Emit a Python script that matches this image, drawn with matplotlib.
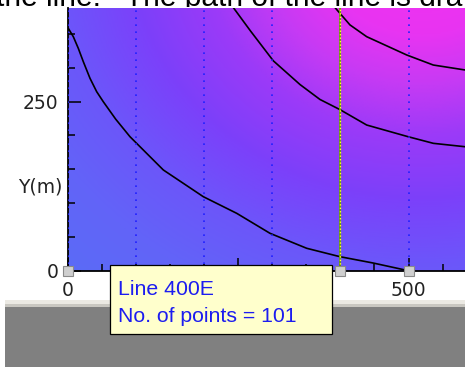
import numpy as np
import matplotlib
matplotlib.use("Agg")
from matplotlib import pyplot as plt
from matplotlib.colors import LinearSegmentedColormap
from matplotlib.patches import Rectangle
from matplotlib.ticker import MultipleLocator

W, H = 465, 367

# survey lines (easting, m) and the one that is selected
line_x = [0, 100, 200, 300, 400, 500]
selected_line = 400
n_points = 101

# contour lines (x, y in metres)
c1_x = [0.4, 7.8, 15.1, 22.5, 32.3, 42.1, 51.8, 70, 91, 140, 198.7, 247.7, 296.6, 350.5, 399.4, 448, 495]
c1_y = [358, 345.6, 328.5, 308.7, 284.2, 264.5, 249.7, 224, 198.1, 149, 109.6, 85.1, 55.6, 33.5, 21.1, 11.8, 1.5]
c2_x = [242.7, 268, 301.5, 340.7, 370, 399.4, 438.6, 499.7, 536.5, 583]
c2_y = [388.6, 354, 310, 275, 253, 238, 215.3, 198, 188.3, 183.3]
c3_x = [392, 399.4, 414, 438.6, 497.4, 536.4, 583]
c3_y = [388.6, 380, 363, 345.6, 318.6, 303.8, 296.5]
contours = [(c1_x, c1_y), (c2_x, c2_y), (c3_x, c3_y)]

x_major = [0, 250, 500]
x_labels = ["0", "250", "500"]
y_major = [0, 250]
y_labels = ["0", "250"]

tip_lines = [f"Line {selected_line}E", f"No. of points = {n_points}"]
top_text_a = "the line."
top_text_b = "The path of the line is drawn"

x_max = (W - 68) / 0.681
y_max = (271 - 7.5) / 0.678


def fx(px):
    return px / W


def fy(py):
    return 1 - py / H


fig = plt.figure(figsize=(W / 100, H / 100), dpi=100)

# caption text cut off by the plot window
for s, px in [(top_text_a, -4), (top_text_b, 125)]:
    fig.text(fx(px), fy(6.5), s, fontsize=21.5, family="Liberation Sans",
             va="baseline", ha="left", zorder=0)
fig.patches.append(Rectangle((0, 0), 1, fy(7), transform=fig.transFigure,
                             fc="white", ec="none", zorder=0.5))

# grey status bar at the bottom
for y0, y1, c in [(300, 304, "#ebe9e3"), (304, 307, "#c9c7c1"), (307, 368, "#808080")]:
    fig.patches.append(Rectangle((fx(5), fy(y1)), 1, (y1 - y0) / H,
                                 transform=fig.transFigure, fc=c, ec="none", zorder=1))

ax = fig.add_axes([fx(68), fy(271), (W - 68) / W, (271 - 7.5) / H])
ax.set_zorder(2)

# background colour field
gx, gy = np.meshgrid(np.linspace(0, x_max, 300), np.linspace(0, y_max, 200))
r = np.hypot(gx - 520, (gy - 480) * 1.15)
stops = [(0, "#f530f0"), (150, "#e834f2"), (230, "#c83af4"), (320, "#9c3af8"),
         (430, "#7c40fa"), (540, "#6c56fa"), (650, "#6264f8"), (800, "#586ef6")]
cmap = LinearSegmentedColormap.from_list("bg", [(v / 800, c) for v, c in stops])
ax.imshow(r, extent=[0, x_max, 0, y_max], origin="lower", aspect="auto",
          cmap=cmap, vmin=0, vmax=800, interpolation="bilinear", zorder=0)

for cx, cy in contours:
    ax.plot(cx, cy, color="black", lw=1.2, zorder=2)

for lx in line_x:
    if lx == selected_line:
        ax.axvline(lx, color="#6aa000", lw=1.3, zorder=3)
        ax.axvline(lx, color="#ffff30", lw=1.0, ls=(0, (1, 1.5)), zorder=3)
    else:
        ax.axvline(lx, color="#2020ff", lw=1.2, ls=(0, (1, 3.2)), zorder=3)

ax.plot(line_x, [0] * len(line_x), ls="none", marker="s", ms=7, mfc="#cfcfcf",
        mec="#8a8a8a", mew=0.8, clip_on=False, zorder=5)

ax.set_xlim(0, x_max)
ax.set_ylim(0, y_max)
ax.set_xticks(x_major)
ax.set_xticklabels(x_labels)
ax.set_yticks(y_major)
ax.set_yticklabels(y_labels)
ax.xaxis.set_minor_locator(MultipleLocator(50))
ax.yaxis.set_minor_locator(MultipleLocator(50))
ax.tick_params(which="both", direction="in", width=1.1, color="black",
               labelsize=13.5, labelcolor="#222222")
ax.tick_params(which="major", length=9.4)
ax.tick_params(which="minor", length=5)
ax.tick_params(axis="x", which="major", pad=7.5)
ax.tick_params(axis="y", which="major", pad=6.8)
for lab in ax.get_xticklabels() + ax.get_yticklabels():
    lab.set_family("DejaVu Sans")

for side in ["top", "right"]:
    ax.spines[side].set_visible(False)
for side in ["left", "bottom"]:
    ax.spines[side].set_linewidth(1.3)
    ax.spines[side].set_zorder(2.5)

ax.set_ylabel("Y(m)", rotation=0, fontsize=13.5, color="#222222", ha="center", va="center")
ax.yaxis.set_label_coords((40 - 68) / (W - 68), 124 / y_max)

# tooltip
fig.patches.append(Rectangle((fx(110), fy(334)), 222 / W, 69 / H,
                             transform=fig.transFigure, fc="#ffffcc", ec="black",
                             lw=0.9, zorder=10))
for s, base in zip(tip_lines, [295, 322.5]):
    fig.text(fx(118), fy(base), s, fontsize=15.3, family="Liberation Sans",
             color="#1c1cf0", va="baseline", ha="left", zorder=11)

fig.savefig("out.png", dpi=100)
